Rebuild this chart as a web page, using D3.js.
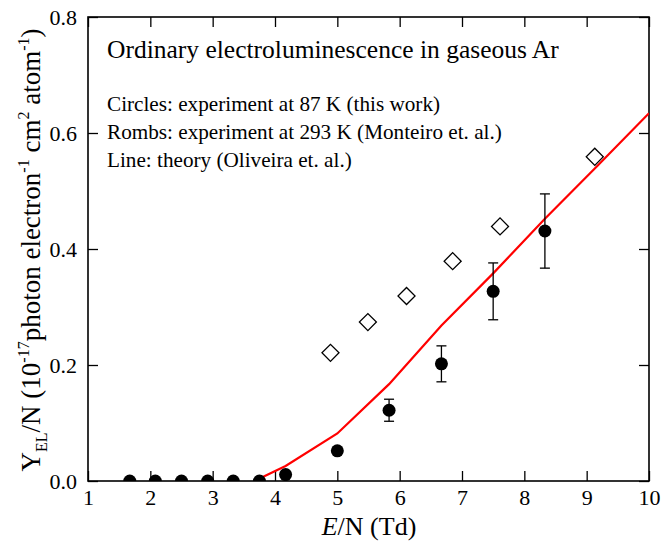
<!DOCTYPE html>
<html>
<head>
<meta charset="utf-8">
<script src="https://cdn.jsdelivr.net/npm/d3@7"></script>
<style>
  body { margin: 0; background: #fff; }
</style>
</head>
<body>
<div id="chart"></div>
<script>
// circles: experiment at 87 K
const circleX = [1.67, 2.08, 2.5, 2.92, 3.33, 3.75, 4.17, 5.0, 5.83, 6.67, 7.5, 8.33];
const circleY = [0, 0, 0, 0, 0, 0, 0.011, 0.052, 0.122, 0.202, 0.327, 0.431];
const circleErr = [0, 0, 0, 0, 0, 0, 0, 0, 0.019, 0.031, 0.049, 0.064];

// rombs: experiment at 293 K
const rombX = [4.89, 5.49, 6.11, 6.85, 7.61, 9.13];
const rombY = [0.221, 0.274, 0.319, 0.379, 0.439, 0.559];

// line: theory
const lineX = [3.77, 4.17, 5.0, 5.83, 6.67, 7.5, 8.33, 9.17, 10];
const lineY = [0.005, 0.026, 0.082, 0.167, 0.268, 0.358, 0.452, 0.543, 0.634];

const xTicks = [1, 2, 3, 4, 5, 6, 7, 8, 9, 10];
const yTicks = [0, 0.2, 0.4, 0.6, 0.8];

const notes = [
    'Circles: experiment at 87 K (this work)',
    'Rombs: experiment at 293 K (Monteiro et. al.)',
    'Line: theory (Oliveira et. al.)'
];

const W = 663, H = 543;
const m = {left: 88, right: 14, top: 17, bottom: 62};
const FONT = "'Liberation Serif', 'Times New Roman', Times, 'DejaVu Serif', serif";

let svg = d3.select('#chart').append('svg')
    .attr('width', W)
    .attr('height', H)
    .attr('font-family', FONT);

let x = d3.scaleLinear().domain([1, 10]).range([m.left, W - m.right]);
let y = d3.scaleLinear().domain([0, 0.8]).range([H - m.bottom, m.top]);

svg.append('clipPath').attr('id', 'plot')
    .append('rect')
    .attr('x', x(1)).attr('y', y(0.8))
    .attr('width', x(10) - x(1)).attr('height', y(0) - y(0.8));

// axes, ticks pointing inward
let tick = 10;
svg.append('g')
    .attr('transform', `translate(0,${y(0)})`)
    .call(d3.axisBottom(x).tickValues(xTicks).tickSize(-tick).tickPadding(8).tickFormat(d3.format('d')));
svg.append('g')
    .attr('transform', `translate(${x(1)},0)`)
    .call(d3.axisLeft(y).tickValues(yTicks).tickSize(-tick).tickPadding(11).tickFormat(d3.format('.1f')));
svg.append('g')
    .attr('transform', `translate(0,${y(0.8)})`)
    .call(d3.axisTop(x).tickValues(xTicks).tickSize(-tick).tickFormat(''));
svg.append('g')
    .attr('transform', `translate(${x(10)},0)`)
    .call(d3.axisRight(y).tickValues(yTicks).tickSize(-tick).tickFormat(''));

svg.selectAll('.domain').remove();
svg.selectAll('.tick line').attr('stroke', '#000').attr('stroke-width', 1.3);
svg.selectAll('.tick text')
    .attr('fill', '#000')
    .attr('font-family', FONT)
    .attr('font-size', 22);

svg.append('rect')
    .attr('x', x(1)).attr('y', y(0.8))
    .attr('width', x(10) - x(1)).attr('height', y(0) - y(0.8))
    .attr('fill', 'none')
    .attr('stroke', '#000')
    .attr('stroke-width', 1.6);

let plot = svg.append('g').attr('clip-path', 'url(#plot)');

// theory line
let line = d3.line().x(d => x(d[0])).y(d => y(d[1]));
plot.append('path')
    .datum(d3.zip(lineX, lineY))
    .attr('d', line)
    .attr('fill', 'none')
    .attr('stroke', '#ff0000')
    .attr('stroke-width', 2.2);

// rombs
let romb = d3.symbol().type(d3.symbolSquare).size(145);
plot.selectAll('.romb')
    .data(d3.zip(rombX, rombY))
    .enter()
    .append('path')
    .attr('class', 'romb')
    .attr('d', romb)
    .attr('transform', d => `translate(${x(d[0])},${y(d[1])}) rotate(45)`)
    .attr('fill', '#fff')
    .attr('stroke', '#000')
    .attr('stroke-width', 1.3);

// error bars
let errs = d3.range(circleX.length).filter(i => circleErr[i] > 0);
let eb = plot.selectAll('.err').data(errs).enter().append('g')
    .attr('stroke', '#000').attr('stroke-width', 1.3);
eb.append('line')
    .attr('x1', i => x(circleX[i])).attr('x2', i => x(circleX[i]))
    .attr('y1', i => y(circleY[i] - circleErr[i])).attr('y2', i => y(circleY[i] + circleErr[i]));
eb.append('line')
    .attr('x1', i => x(circleX[i]) - 5).attr('x2', i => x(circleX[i]) + 5)
    .attr('y1', i => y(circleY[i] + circleErr[i])).attr('y2', i => y(circleY[i] + circleErr[i]));
eb.append('line')
    .attr('x1', i => x(circleX[i]) - 5).attr('x2', i => x(circleX[i]) + 5)
    .attr('y1', i => y(circleY[i] - circleErr[i])).attr('y2', i => y(circleY[i] - circleErr[i]));

// circles
plot.selectAll('.circ')
    .data(d3.zip(circleX, circleY))
    .enter()
    .append('circle')
    .attr('cx', d => x(d[0]))
    .attr('cy', d => y(d[1]))
    .attr('r', 6.5)
    .attr('fill', '#000');

// annotations
svg.append('text')
    .attr('x', 107).attr('y', 58)
    .attr('font-size', 25.5)
    .text('Ordinary electroluminescence in gaseous Ar');

svg.selectAll('.note')
    .data(notes)
    .enter()
    .append('text')
    .attr('x', 107)
    .attr('y', (d, i) => 111 + i * 28)
    .attr('font-size', 21.2)
    .text(d => d);

// x title
let xt = svg.append('text')
    .attr('x', 369).attr('y', 535)
    .attr('text-anchor', 'middle')
    .attr('font-size', 26);
xt.append('tspan').attr('font-style', 'italic').text('E');
xt.append('tspan').text('/N (Td)');

// y title with sub/superscripts
let yt = svg.append('text')
    .attr('transform', `translate(40,250) rotate(-90)`)
    .attr('text-anchor', 'middle')
    .attr('font-size', 27);
let parts = [
    ['Y', 0], ['EL', -1], ['/N (10', 0], ['-17', 1], ['photon electron', 0],
    ['-1', 1], [' cm', 0], ['2', 1], [' atom', 0], ['-1', 1], [')', 0]
];
let prev = 0;
parts.forEach(p => {
    let shift = p[1] === 1 ? -11 : (p[1] === -1 ? 7 : 0);
    yt.append('tspan')
        .attr('dy', shift - prev)
        .attr('font-size', p[1] === 0 ? 27 : 16)
        .text(p[0]);
    prev = shift;
});
</script>
</body>
</html>
